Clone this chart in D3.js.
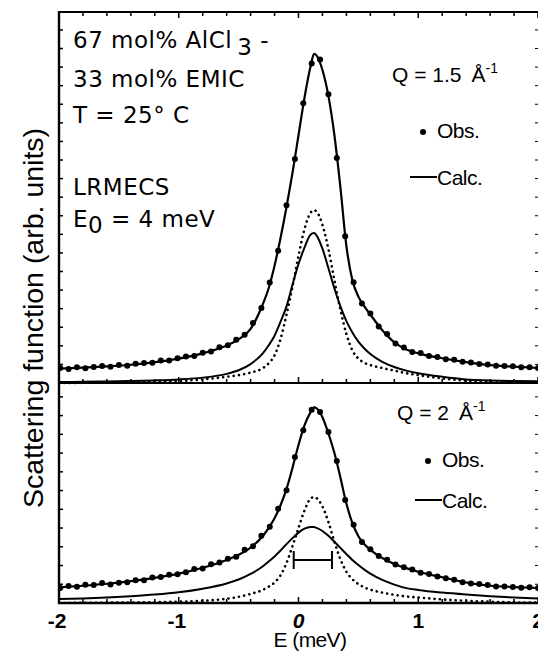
<!DOCTYPE html>
<html><head><meta charset="utf-8">
<script src="https://cdn.jsdelivr.net/npm/d3@7/dist/d3.min.js"></script>
<style>body{margin:0;background:#fff}svg{display:block}</style>
</head><body>
<svg id="c" width="538" height="651"></svg>
<script>
// ---------- data ----------
const calcE = [-2.0,-1.8,-1.6,-1.4,-1.2,-1.0,-0.8,-0.6,-0.5,-0.4,-0.3,-0.25,-0.2,-0.15,-0.1,-0.05,0,0.05,0.1,0.13,0.15,0.2,0.25,0.3,0.35,0.4,0.45,0.5,0.55,0.6,0.7,0.8,0.9,1.0,1.2,1.4,1.6,1.8,2.0];
// Q = 1.5 Å-1 panel
const topCalc    = [4.4,4.7,5.1,5.6,6.4,7.5,9.1,11.5,13.4,16.6,24,29,36,44.5,54,64.5,76,87.5,97,101,100.5,96,88,76,60,42,31.5,26.5,23.5,21,16.2,12.5,10.3,9.1,7.6,6.4,5.5,5.0,4.6];
const topQuasi   = [0.3,0.37,0.46,0.6,0.8,1.1,1.65,2.8,3.9,5.8,9.0,11.5,14.5,18.8,23.5,30.2,36.5,41.5,45.5,46,45.3,41.2,35.2,29.0,23.5,19.0,15.5,12.7,10.6,8.9,6.5,4.9,3.8,3.0,1.9,1.1,0.8,0.6,0.5];
const topElastic = [0,0.05,0.1,0.2,0.35,0.6,1.1,1.9,2.4,3.2,4.5,6.0,8.5,13.5,21,29.5,39,47.2,52.2,53,52.6,48.5,41,31.5,22.5,15,10,7.5,6.2,5.5,4.6,3.8,3.0,2.4,1.4,0.7,0.3,0.15,0.05];
// Q = 2 Å-1 panel
const botCalc    = [4.8,5.3,5.9,6.7,7.7,9.0,10.8,13.2,14.8,17.0,20.5,23,26,30,35,41.5,48.5,54.5,58.5,60,59.8,57,52,46,38.5,30.5,24.5,20.5,18,16.3,13.8,12,10.7,9.6,7.9,6.3,5.3,4.9,4.6];
const botQuasi   = [1.2,1.4,1.7,2.1,2.6,3.3,4.4,6.0,7.2,8.9,11.2,12.7,14.3,16.1,18.06,19.9,21.6,22.8,23.3,23.3,23.05,22.1,20.6,18.8,16.9,15.0,13.2,11.65,10.25,9.04,7.08,5.64,4.57,4.0,3.2,2.6,2.1,1.7,1.4];
const botElastic = [0,0.05,0.1,0.15,0.25,0.4,0.7,1.3,1.9,2.8,4.0,5.0,6.3,8.5,12.3,17.5,23,28.4,32,32.5,32.2,29.6,24.8,18.8,13.4,9.6,7.3,5.8,4.8,4.1,3.2,2.5,2.0,1.7,1.1,0.7,0.4,0.2,0.1];

const obsE = [-1.99,-1.92,-1.85,-1.78,-1.71,-1.64,-1.57,-1.50,-1.43,-1.36,-1.29,-1.22,-1.15,-1.08,-1.01,-0.94,-0.87,-0.80,-0.73,-0.66,-0.59,-0.52,-0.45,-0.38,-0.31,-0.24,-0.17,-0.10,-0.03,0.04,0.11,0.18,0.25,0.32,0.39,0.46,0.53,0.60,0.67,0.74,0.81,0.88,0.95,1.02,1.09,1.16,1.23,1.30,1.37,1.44,1.51,1.58,1.65,1.72,1.79,1.86,1.93,2.00];
const topObs = [4.6,4.3,4.8,4.5,4.9,5.2,5.0,5.5,5.3,5.9,6.1,6.2,6.9,6.9,7.6,8.1,8.3,9.3,9.7,11.0,11.6,13.3,14.8,18.4,23.0,30.8,40.6,54.5,68.7,85.8,98.0,99.2,88.6,69.0,45.0,30.9,24.4,21.3,17.3,15.0,12.1,10.9,9.5,9.2,8.3,8.0,7.3,7.1,6.5,6.3,5.8,5.7,5.3,5.2,5.1,4.8,4.8,4.6];
const botObs = [4.6,5.2,5.0,5.6,5.5,6.1,5.7,6.2,6.4,7.0,7.0,7.8,8.0,8.7,8.8,9.4,10.4,10.6,11.9,12.4,13.6,14.2,16.3,17.4,20.6,23.4,28.9,34.6,44.8,53.0,59.3,58.6,52.5,43.6,31.6,24.0,18.7,16.5,14.4,13.3,11.8,11.0,10.3,9.3,8.9,8.1,7.6,7.1,6.4,6.0,5.8,5.5,5.1,5.1,4.9,4.7,4.8,4.6];

const xTickValues = [-2,-1,0,1,2];
const xTickLabels = ["-2","-1","0","1","2"];
const resolutionE = [-0.04, 0.28];
const resolutionLevel = 13.2;

// ---------- drawing ----------
const svg = d3.select("#c");
const x = d3.scaleLinear().domain([-2,2]).range([59,538]);
const yTop = d3.scaleLinear().domain([0,113.8]).range([383,12]);
const yBot = d3.scaleLinear().domain([0,67.5]).range([603,383]);

svg.append("defs").append("clipPath").attr("id","clip")
  .append("rect").attr("x",59).attr("y",12).attr("width",479).attr("height",591);
const g = svg.append("g").attr("clip-path","url(#clip)");

function panel(y, calc, quasi, elastic, obs){
  const line = arr => d3.line().x((d,i)=>x(calcE[i])).y(d=>y(d)).curve(d3.curveMonotoneX)(arr);
  g.append("path").attr("d",line(elastic)).attr("fill","none").attr("stroke","#000")
    .attr("stroke-width",2.6).attr("stroke-dasharray","0.1 5.2").attr("stroke-linecap","round");
  g.append("path").attr("d",line(quasi)).attr("fill","none").attr("stroke","#000").attr("stroke-width",2);
  g.append("path").attr("d",line(calc)).attr("fill","none").attr("stroke","#000").attr("stroke-width",2.2);
  g.selectAll(null).data(obs).enter().append("circle")
    .attr("cx",(d,i)=>x(obsE[i])).attr("cy",d=>y(d)).attr("r",3).attr("fill","#000");
}
panel(yTop, topCalc, topQuasi, topElastic, topObs);
panel(yBot, botCalc, botQuasi, botElastic, botObs);

// resolution bar
const ry = yBot(resolutionLevel);
g.append("line").attr("x1",x(resolutionE[0])).attr("x2",x(resolutionE[1])).attr("y1",ry).attr("y2",ry).attr("stroke","#000").attr("stroke-width",2);
resolutionE.forEach(e=>g.append("line").attr("x1",x(e)).attr("x2",x(e)).attr("y1",ry-9).attr("y2",ry+9).attr("stroke","#000").attr("stroke-width",2));

// frame
const ax = svg.append("g").attr("stroke","#000");
ax.append("line").attr("x1",59).attr("x2",59).attr("y1",11).attr("y2",604).attr("stroke-width",2.4);
ax.append("line").attr("x1",58).attr("x2",538).attr("y1",12).attr("y2",12).attr("stroke-width",2);
ax.append("line").attr("x1",58).attr("x2",538).attr("y1",383).attr("y2",383).attr("stroke-width",2.2);
ax.append("line").attr("x1",58).attr("x2",538).attr("y1",603).attr("y2",603).attr("stroke-width",2.6);

// x ticks
const minorX = d3.range(-20,21,2).map(v=>v/10);
minorX.forEach(v=>{
  const major = Math.abs(v-Math.round(v))<1e-9;
  const L = major?6:4;
  ax.append("line").attr("x1",x(v)).attr("x2",x(v)).attr("y1",12).attr("y2",12+L).attr("stroke-width",1.5);
  ax.append("line").attr("x1",x(v)).attr("x2",x(v)).attr("y1",383).attr("y2",383-L).attr("stroke-width",1.5);
  ax.append("line").attr("x1",x(v)).attr("x2",x(v)).attr("y1",603).attr("y2",603-L).attr("stroke-width",1.5);
});
// y ticks
d3.range(1,20).forEach(k=>{
  const yy = yTop(5.7*k);
  ax.append("line").attr("x1",59).attr("x2",63).attr("y1",yy).attr("y2",yy).attr("stroke-width",1.5);
  ax.append("line").attr("x1",538).attr("x2",535).attr("y1",yy).attr("y2",yy).attr("stroke-width",1);
});
d3.range(1,12).forEach(k=>{
  const yy = yBot(5.75*k);
  ax.append("line").attr("x1",59).attr("x2",63).attr("y1",yy).attr("y2",yy).attr("stroke-width",1.5);
  ax.append("line").attr("x1",538).attr("x2",535).attr("y1",yy).attr("y2",yy).attr("stroke-width",1);
});

// x tick labels
svg.selectAll(null).data(xTickValues).enter().append("text")
  .attr("x",d=>x(d)-(d<0?2:0)).attr("y",628).attr("text-anchor","middle")
  .attr("font-family","Liberation Sans, Arial, sans-serif").attr("font-weight","bold").attr("font-size",21)
  .attr("font-style",d=>d===0?"italic":"normal")
  .text((d,i)=>xTickLabels[i]);
svg.append("text").attr("x",310).attr("y",647).attr("text-anchor","middle")
  .attr("font-family","Liberation Sans, Arial, sans-serif").attr("font-size",21).attr("letter-spacing",-0.6).text("E (meV)");
svg.append("text").attr("transform","translate(43,318) rotate(-90)").attr("text-anchor","middle")
  .attr("font-family","Liberation Sans, Arial, sans-serif").attr("font-size",28.5).text("Scattering function (arb. units)");

// left annotation block
const ff = "DejaVu Sans, sans-serif";
function note(yb){
  return svg.append("text").attr("x",73).attr("y",yb).attr("font-family",ff).attr("font-size",23).attr("letter-spacing",0.5);
}
const t1 = note(48);
t1.append("tspan").text("67 mol% AlCl");
t1.append("tspan").attr("dx",5).attr("dy",7).text("3");
t1.append("tspan").attr("dy",-7).text(" -");
note(87).text("33 mol% EMIC");
note(123).text("T = 25° C");
note(195).text("LRMECS");
const t5 = note(227);
t5.append("tspan").text("E");
t5.append("tspan").attr("dy",6).text("0");
t5.append("tspan").attr("dy",-6).text(" = 4 meV");

// legends
const lf = "Liberation Sans, Arial, sans-serif";
function legend(x0, yq, qText, yObs, yCalc){
  const q = svg.append("text").attr("x",x0).attr("y",yq).attr("font-family",lf).attr("font-size",21);
  q.append("tspan").text(qText);
  q.append("tspan").attr("dx",10).text("Å");
  q.append("tspan").attr("dy",-9).attr("font-size",14).text("-1");
  svg.append("circle").attr("cx",x0+31).attr("cy",yObs-6).attr("r",3).attr("fill","#000");
  svg.append("text").attr("x",x0+45).attr("y",yObs).attr("font-family",lf).attr("font-size",21).attr("letter-spacing",-0.5).text("Obs.");
  svg.append("line").attr("x1",x0+18).attr("x2",x0+45).attr("y1",yCalc-8).attr("y2",yCalc-8).attr("stroke","#000").attr("stroke-width",2);
  svg.append("text").attr("x",x0+45).attr("y",yCalc).attr("font-family",lf).attr("font-size",21).attr("letter-spacing",-0.5).text("Calc.");
}
legend(392, 82, "Q = 1.5", 138, 185);
legend(397, 420, "Q = 2", 467, 508);
</script>
</body></html>
